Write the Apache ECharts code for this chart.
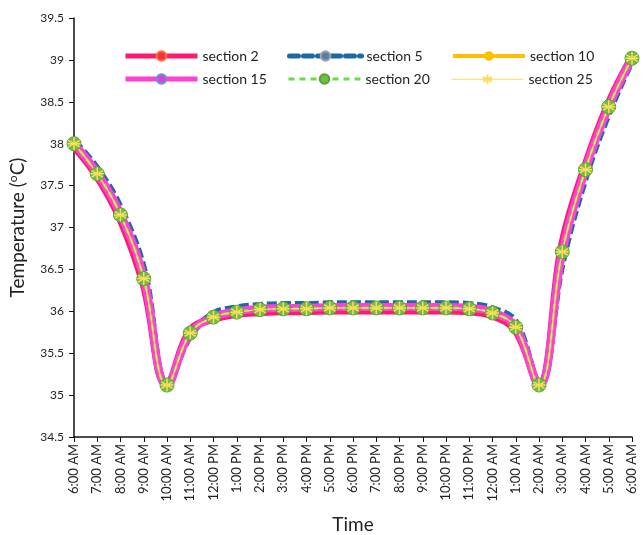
<!DOCTYPE html>
<html><head><meta charset="utf-8">
<script src="https://cdn.jsdelivr.net/npm/echarts@6/dist/echarts.min.js"></script>
<style>html,body{margin:0;padding:0;background:#fff}#c{width:644px;height:535px}</style>
</head><body><div id="c"></div>
<script>
const categories = ['6:00 AM','7:00 AM','8:00 AM','9:00 AM','10:00 AM','11:00 AM','12:00 PM','1:00 PM','2:00 PM','3:00 PM','4:00 PM','5:00 PM','6:00 PM','7:00 PM','8:00 PM','9:00 PM','10:00 PM','11:00 PM','12:00 AM','1:00 AM','2:00 AM','3:00 AM','4:00 AM','5:00 AM','6:00 AM'];
const seriesNames = ['section 2','section 5','section 10','section 15','section 20','section 25'];
const section2  = [37.97,37.61,37.10,36.32,35.12,35.77,35.91,35.97,35.99,36.00,36.00,36.01,36.01,36.01,36.01,36.01,36.01,36.00,35.95,35.77,35.13,36.80,37.74,38.48,39.03];
const section5  = [38.03,37.70,37.23,36.50,35.14,35.71,35.97,36.04,36.07,36.08,36.08,36.09,36.09,36.09,36.09,36.09,36.09,36.08,36.03,35.87,35.13,36.58,37.60,38.37,39.00];
const section10 = [38.00,37.64,37.15,36.39,35.12,35.74,35.93,35.99,36.02,36.03,36.03,36.04,36.04,36.04,36.04,36.04,36.04,36.03,35.98,35.81,35.12,36.71,37.69,38.44,39.02];
const section15 = [38.00,37.65,37.16,36.40,35.12,35.74,35.93,36.00,36.03,36.04,36.04,36.05,36.05,36.05,36.05,36.05,36.05,36.04,35.99,35.81,35.12,36.70,37.69,38.44,39.02];
const section20 = [38.00,37.64,37.15,36.39,35.12,35.74,35.93,35.99,36.02,36.03,36.03,36.04,36.04,36.04,36.04,36.04,36.04,36.03,35.98,35.81,35.12,36.71,37.69,38.44,39.02];
const section25 = [38.00,37.64,37.15,36.39,35.12,35.74,35.93,35.99,36.02,36.03,36.03,36.04,36.04,36.04,36.04,36.04,36.04,36.03,35.98,35.81,35.12,36.71,37.69,38.44,39.02];
const yTicks = [34.5,35,35.5,36,36.5,37,37.5,38,38.5,39,39.5];

const FONT = 'Lato';
const star = 'path://M0,-10L0,10M-8.66,-5L8.66,5M-8.66,5L8.66,-5M-10,0L10,0';
const chart = echarts.init(document.getElementById('c'));

const legendPos = [[123,49],[287,49],[451,49],[123,72],[287,72],[451,72]];
const legendLine = [
  {width: 5, color: '#FF1A6E'},
  {width: 5, color: '#1B6AA5', type: [9, 5], cap: 'round'},
  {width: 4, color: '#FFC000'},
  {width: 5, color: '#FF40D8'},
  {width: 3, color: '#66DD44', type: [6, 5]},
  {width: 1, color: '#FFD966'}
];
const legends = seriesNames.map((n, i) => ({
  left: legendPos[i][0], top: legendPos[i][1], padding: 0,
  itemWidth: 72, itemHeight: 12, data: [n],
  lineStyle: legendLine[i],
  textStyle: {fontFamily: FONT, fontSize: 14, color: '#222'}
}));

chart.setOption({
  animation: false,
  textStyle: {fontFamily: FONT},
  grid: {left: 74, right: 12, top: 18, bottom: 98, outerBoundsMode: 'none', containLabel: false},
  legend: legends,
  xAxis: {
    type: 'category', data: categories, boundaryGap: false,
    name: 'Time', nameLocation: 'middle', nameGap: 78,
    nameTextStyle: {fontFamily: FONT, fontSize: 19, color: '#222'},
    axisLine: {lineStyle: {color: '#111', width: 1.5}},
    axisTick: {show: true, length: 5, lineStyle: {color: '#111'}},
    axisLabel: {rotate: 90, fontSize: 13, color: '#222', fontFamily: FONT, margin: 7, interval: 0}
  },
  yAxis: {
    type: 'value', min: 34.5, max: 39.5, interval: 0.5,
    name: 'Temperature ({s|o}C)', nameLocation: 'middle', nameGap: 46,
    nameTextStyle: {fontFamily: FONT, fontSize: 19, color: '#222', rich: {s: {fontSize: 12, verticalAlign: 'top', padding: [0,0,9,0], fontFamily: FONT, color: '#222'}}},
    splitLine: {show: false},
    axisLine: {show: true, lineStyle: {color: '#111', width: 1.5}},
    axisTick: {show: true, length: 5, lineStyle: {color: '#111'}},
    axisLabel: {fontSize: 12, color: '#222', fontFamily: FONT, margin: 10,
      formatter: v => yTicks.includes(+v.toFixed(1)) ? String(+v.toFixed(1)) : ''}
  },
  series: [
    {name: 'section 2', type: 'line', data: section2, smooth: 0.4, showSymbol: false,
     symbol: 'circle', symbolSize: 9, color: '#FF1A6E',
     itemStyle: {color: '#FF2A4A', borderColor: '#ED7D31', borderWidth: 2},
     lineStyle: {width: 8, color: '#FF1A6E'}},
    {name: 'section 5', type: 'line', data: section5, smooth: 0.4, showSymbol: false,
     symbol: 'circle', symbolSize: 9, color: '#1B6AA5',
     itemStyle: {color: '#5A7FA8', borderColor: '#A5A5A5', borderWidth: 2},
     lineStyle: {width: 7, color: '#1B6AA5', type: [10, 4]}},
    {name: 'section 10', type: 'line', data: section10, smooth: 0.4, showSymbol: false,
     symbol: 'circle', symbolSize: 9, color: '#FFC000',
     itemStyle: {color: '#FFC000', borderColor: '#FFC000'},
     lineStyle: {width: 4, color: '#FFC000'}},
    {name: 'section 15', type: 'line', data: section15, smooth: 0.4, showSymbol: false,
     symbol: 'circle', symbolSize: 9, color: '#FF40D8',
     itemStyle: {color: '#E040D8', borderColor: '#5B9BD5', borderWidth: 2},
     lineStyle: {width: 8, color: '#FF40D8'}},
    {name: 'section 20', type: 'line', data: section20, smooth: 0.4, showSymbol: true,
     symbol: 'circle', symbolSize: 14, color: '#66DD44',
     itemStyle: {color: '#6EBF45', borderColor: '#5E9E3A', borderWidth: 1},
     lineStyle: {width: 3, color: '#66DD44', type: [6, 4]}},
    {name: 'section 25', type: 'line', data: section25, smooth: 0.4, showSymbol: true,
     symbol: star, symbolSize: 13, color: '#FFD966',
     itemStyle: {color: 'none', borderColor: '#FFDB5C', borderWidth: 1.5},
     lineStyle: {width: 1.5, color: '#FFD966'}}
  ]
});
</script></body></html>
